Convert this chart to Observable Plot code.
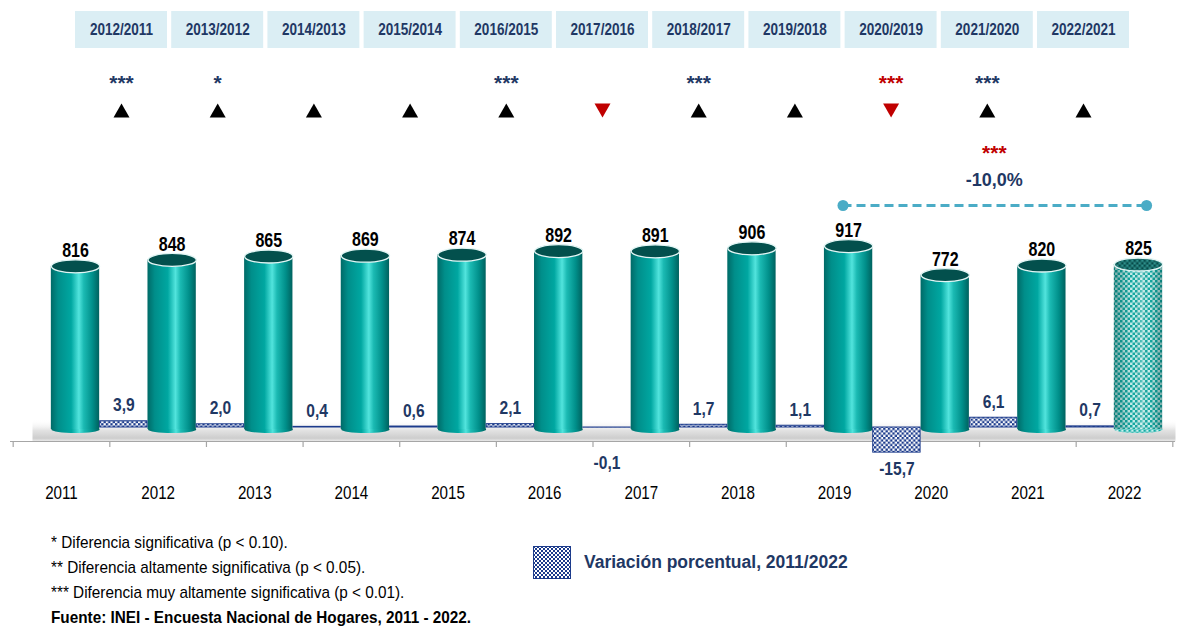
<!DOCTYPE html>
<html>
<head>
<meta charset="utf-8">
<script src="https://cdn.jsdelivr.net/npm/d3@7"></script>
<script src="https://cdn.jsdelivr.net/npm/@observablehq/plot@0.6"></script>
<style>
  body { margin: 0; background: #fff; }
  #wrap { position: relative; width: 1178px; height: 628px; overflow: hidden; background: #fff; }
  #chart { position: absolute; left: 0; top: 0; width: 1178px; height: 520px; }
  #chart svg { position: absolute; left: 0; top: 0; background: transparent !important; overflow: visible; }
  .note { position: absolute; left: 51px; font-family: "Liberation Sans", Arial, sans-serif; font-size: 17px; color: #000; line-height: 25px; white-space: nowrap; transform: scaleX(0.9); transform-origin: 0 50%; }
  .note b { font-weight: bold; }
  #legend { position: absolute; left: 533px; top: 546px; display: flex; align-items: center; }
  #legend span { margin-left: 13px; font-family: "Liberation Sans", Arial, sans-serif; font-weight: bold; font-size: 17.5px; color: #1f3864; }
</style>
</head>
<body>
<div id="wrap">
  <div id="chart"></div>
  <div class="note" style="top:530px">* Diferencia significativa (p &lt; 0.10).</div>
  <div class="note" style="top:555px">** Diferencia altamente significativa (p &lt; 0.05).</div>
  <div class="note" style="top:580px">*** Diferencia muy altamente significativa (p &lt; 0.01).</div>
  <div class="note" style="top:605px"><b>Fuente: INEI - Encuesta Nacional de Hogares, 2011 - 2022.</b></div>
  <div id="legend">
    <svg width="38" height="33">
      <defs>
        <pattern id="chkLegend" patternUnits="userSpaceOnUse" width="4" height="4">
          <rect width="4" height="4" fill="#ffffff"/>
          <rect width="2" height="2" fill="#1c3b8c"/>
          <rect x="2" y="2" width="2" height="2" fill="#1c3b8c"/>
        </pattern>
      </defs>
      <rect x="0.5" y="0.5" width="37" height="32" fill="url(#chkLegend)" stroke="#1c3b8c" stroke-width="1"/>
    </svg>
    <span>Variación porcentual, 2011/2022</span>
  </div>
</div>
<script>
// ---------------- DATA ----------------
const years = ["2011","2012","2013","2014","2015","2016","2017","2018","2019","2020","2021","2022"];
const values = [816, 848, 865, 869, 874, 892, 891, 906, 917, 772, 820, 825];
const periods = ["2012/2011","2013/2012","2014/2013","2015/2014","2016/2015","2017/2016","2018/2017","2019/2018","2020/2019","2021/2020","2022/2021"];
const variations = [3.9, 2.0, 0.4, 0.6, 2.1, -0.1, 1.7, 1.1, -15.7, 6.1, 0.7];
const significance = ["***", "*", "", "", "***", "", "***", "", "***", "***", ""];
const totalFrom = "2019";
const totalTo = "2022";
const totalSignificance = "***";

// ---------------- STYLE ----------------
// "Narrow" marks: Liberation Sans condensed horizontally after rendering (Arial Narrow look)
const narrow = '"Liberation Sans Narrow","Liberation Sans",Arial,sans-serif';
const sans = '"Liberation Sans",Arial,sans-serif';
const navy = "#1f3864";
const barNavy = "#1c3b8c";
const red = "#c00000";
const dash = "#4bacc6";

const fmt = v => v.toFixed(1).replace(".", ",");
const levelData = years.map((year, i) => ({year, i, value: values[i]}));
const varData = periods.map((period, k) => ({
  period, i: k + 0.5, v: variations[k], sig: significance[k],
  dir: variations[k] < 0 ? "down" : "up"
}));
const boundaries = d3.range(years.length + 1).map(k => k - 0.5);
const fromIdx = years.indexOf(totalFrom), toIdx = years.indexOf(totalTo);
const total = [{
  x1: fromIdx, x2: toIdx, mid: (fromIdx + toIdx) / 2,
  label: fmt((values[toIdx] / values[fromIdx] - 1) * 100) + "%",
  sig: totalSignificance
}];
const lastYear = years[years.length - 1];

function ellipse(rx, ry) {
  const k = 0.5522847;
  return {draw(ctx) {
    ctx.moveTo(rx, 0);
    ctx.bezierCurveTo(rx, ry * k, rx * k, ry, 0, ry);
    ctx.bezierCurveTo(-rx * k, ry, -rx, ry * k, -rx, 0);
    ctx.bezierCurveTo(-rx, -ry * k, -rx * k, -ry, 0, -ry);
    ctx.bezierCurveTo(rx * k, -ry, rx, -ry * k, rx, 0);
    ctx.closePath();
  }};
}
function tri(up, w, h) {
  return {draw(ctx) {
    const s = up ? 1 : -1;
    ctx.moveTo(-w / 2, s * h / 2);
    ctx.lineTo(w / 2, s * h / 2);
    ctx.lineTo(0, -s * h / 2);
    ctx.closePath();
  }};
}

const defs = () => {
  const g = document.createElementNS("http://www.w3.org/2000/svg", "g");
  g.innerHTML = `<defs>
    <linearGradient id="cyl" x1="0" x2="1" y1="0" y2="0">
      <stop offset="0" stop-color="#006a67"/>
      <stop offset="0.15" stop-color="#008e8a"/>
      <stop offset="0.42" stop-color="#00a7a1"/>
      <stop offset="0.58" stop-color="#52e4dd"/>
      <stop offset="0.68" stop-color="#1bbab3"/>
      <stop offset="0.86" stop-color="#008f8a"/>
      <stop offset="1" stop-color="#00625f"/>
    </linearGradient>
    <linearGradient id="shade" x1="0" x2="1" y1="0" y2="0">
      <stop offset="0" stop-color="#003f3d" stop-opacity="0.4"/>
      <stop offset="0.4" stop-color="#003f3d" stop-opacity="0"/>
      <stop offset="0.58" stop-color="#ffffff" stop-opacity="0.3"/>
      <stop offset="0.72" stop-color="#003f3d" stop-opacity="0"/>
      <stop offset="1" stop-color="#003f3d" stop-opacity="0.4"/>
    </linearGradient>
    <pattern id="cylChk" patternUnits="userSpaceOnUse" width="5" height="5">
      <rect width="5" height="5" fill="#c8f1ee"/>
      <rect width="2.5" height="2.5" fill="#14aaa3"/>
      <rect x="2.5" y="2.5" width="2.5" height="2.5" fill="#14aaa3"/>
    </pattern>
    <pattern id="cylChkTop" patternUnits="userSpaceOnUse" width="5" height="5">
      <rect width="5" height="5" fill="#2e8f8b"/>
      <rect width="2.5" height="2.5" fill="#074b49"/>
      <rect x="2.5" y="2.5" width="2.5" height="2.5" fill="#074b49"/>
    </pattern>
    <pattern id="chk" patternUnits="userSpaceOnUse" width="4.6" height="4.6">
      <rect width="4.6" height="4.6" fill="#ffffff"/>
      <rect width="2.3" height="2.3" fill="${barNavy}"/>
      <rect x="2.3" y="2.3" width="2.3" height="2.3" fill="${barNavy}"/>
    </pattern>
    <linearGradient id="floorGrad" x1="0" x2="0" y1="0" y2="1">
      <stop offset="0" stop-color="#ffffff" stop-opacity="0"/>
      <stop offset="0.5" stop-color="#e2e2e2"/>
      <stop offset="0.85" stop-color="#cdcdcd"/>
      <stop offset="1" stop-color="#ededed"/>
    </linearGradient>
  </defs>`;
  return g;
};

const hw = 0.25;
const xMain = {type: "linear", domain: [0, years.length - 1], range: [75, 1138], axis: null};

// ---------------- MAIN (levels) ----------------
const main = Plot.plot({
  width: 1178, height: 520,
  marginTop: 0, marginBottom: 79, marginLeft: 10, marginRight: 3,
  x: xMain,
  y: {domain: [0, 1000], range: [429, 229], axis: null},
  marks: [
    defs,
    Plot.frame({fill: "url(#floorGrad)", stroke: "none", insetTop: 419, insetLeft: 22}),
    Plot.ruleY([0], {dy: 12, stroke: "#a6a6a6", strokeWidth: 1.2}),
    Plot.ruleX(boundaries, {x: d => d, dx: -14, insetTop: 441, insetBottom: -6, stroke: "#a6a6a6", strokeWidth: 1.2}),
    Plot.dot(levelData.filter(d => d.year !== lastYear), {x: "i", y: () => 0, symbol: ellipse(24.15, 3.5), fill: "url(#cyl)"}),
    Plot.dot(levelData.filter(d => d.year === lastYear), {x: "i", y: () => 0, symbol: ellipse(24.15, 3.5), fill: "url(#cylChk)"}),
    Plot.rect(levelData.filter(d => d.year !== lastYear), {x1: d => d.i - hw, x2: d => d.i + hw, y1: () => 0, y2: "value", fill: "url(#cyl)"}),
    Plot.rect(levelData.filter(d => d.year === lastYear), {x1: d => d.i - hw, x2: d => d.i + hw, y1: () => 0, y2: "value", fill: "url(#cylChk)"}),
    Plot.rect(levelData.filter(d => d.year === lastYear), {x1: d => d.i - hw, x2: d => d.i + hw, y1: () => 0, y2: "value", fill: "url(#shade)"}),
    Plot.dot(levelData.filter(d => d.year !== lastYear), {x: "i", y: "value", symbol: ellipse(24.15, 6.5), fill: "#03504d", stroke: "#e2f5f4", strokeWidth: 1.3}),
    Plot.dot(levelData.filter(d => d.year === lastYear), {x: "i", y: "value", symbol: ellipse(24.15, 6.5), fill: "url(#cylChkTop)", stroke: "#e2f5f4", strokeWidth: 1.3}),
    Plot.text(levelData, {x: "i", y: "value", text: d => String(d.value), dy: -15.5, fontSize: 19.5, fontWeight: "bold", fontFamily: narrow, fill: "#000"}),
    Plot.text(levelData, {x: "i", y: () => 0, text: "year", dy: 64, dx: -14, fontSize: 18.5, fontFamily: narrow, fill: "#000"})
  ]
});

// ---------------- VARIATIONS (own scale) ----------------
const vplot = Plot.plot({
  width: 1178, height: 520, margin: 0,
  x: xMain,
  y: {domain: [0, 10], range: [427, 411], axis: null},
  marks: [
    Plot.rect(varData, {x1: d => d.i - 0.245, x2: d => d.i + 0.245, y1: () => 0, y2: "v", fill: "url(#chk)", stroke: barNavy, strokeWidth: 1}),
    Plot.text(varData.filter(d => d.v >= 0), {x: "i", y: "v", text: d => fmt(d.v), dy: -16, fontSize: 19, fontWeight: "bold", fontFamily: narrow, fill: navy}),
    Plot.text(varData.filter(d => d.v < 0), {x: "i", y: d => Math.min(d.v, -12), text: d => fmt(d.v), dy: 16, fontSize: 19, fontWeight: "bold", fontFamily: narrow, fill: navy})
  ]
});

// ---------------- HEADER (periods, significance, direction) ----------------
const rows = ["cab", "sig", "dir", "ast", "pct", "lin"];
const header = Plot.plot({
  width: 1178, height: 520, margin: 0,
  x: {type: "linear", domain: [0.5, periods.length - 0.5], range: [121, 1083], axis: null},
  y: {type: "band", domain: rows, range: [11, 233], padding: 0, axis: null},
  marks: [
    Plot.barX(varData, {x1: d => d.i - 0.478, x2: d => d.i + 0.478, y: () => "cab", fill: "#dbeef4"}),
    Plot.text(varData, {x: "i", y: () => "cab", text: "period", fontSize: 16.5, fontWeight: "bold", fontFamily: narrow, fill: navy}),
    Plot.text(varData.filter(d => d.sig && d.dir === "up"), {x: "i", y: () => "sig", text: "sig", dy: 16.5, fontSize: 21, fontWeight: "bold", fontFamily: sans, fill: navy}),
    Plot.text(varData.filter(d => d.sig && d.dir === "down"), {x: "i", y: () => "sig", text: "sig", dy: 16.5, fontSize: 21, fontWeight: "bold", fontFamily: sans, fill: red}),
    Plot.dot(varData.filter(d => d.dir === "up"), {x: "i", y: () => "dir", dy: 6.5, symbol: tri(true, 16, 14), fill: "#000"}),
    Plot.dot(varData.filter(d => d.dir === "down"), {x: "i", y: () => "dir", dy: 6.5, symbol: tri(false, 16, 14), fill: red}),
    Plot.text(total, {x: "mid", y: () => "ast", text: "sig", dx: 7, dy: 12, fontSize: 21, fontWeight: "bold", fontFamily: sans, fill: red}),
    Plot.text(total, {x: "mid", y: () => "pct", text: "label", dx: 7, dy: 2.5, fontSize: 18, fontWeight: "bold", fontFamily: sans, fill: navy}),
    Plot.ruleY(total, {y: () => "lin", x1: "x1", x2: "x2", insetRight: -15, dy: -9.5, stroke: dash, strokeWidth: 3.2, strokeDasharray: "9,5"}),
    Plot.dot(total, {x: "x1", y: () => "lin", dy: -9.5, r: 5.5, fill: dash}),
    Plot.dot(total, {x: "x2", y: () => "lin", dx: 15, dy: -9.5, r: 5.5, fill: dash})
  ]
});

const chart = document.getElementById("chart");
for (const el of [main, vplot, header]) {
  el.style.background = "transparent";
  el.style.position = "absolute";
  el.style.left = "0px";
  el.style.top = "0px";
  el.style.maxWidth = "none";
  chart.appendChild(el);
}
// condense the "narrow" texts horizontally (Arial Narrow look-alike)
chart.querySelectorAll('g[font-family*="Narrow"] text').forEach(t => {
  const len = t.getComputedTextLength();
  if (len > 0) {
    t.setAttribute("textLength", (len * 0.82).toFixed(2));
    t.setAttribute("lengthAdjust", "spacingAndGlyphs");
  }
});
</script>
</body>
</html>
